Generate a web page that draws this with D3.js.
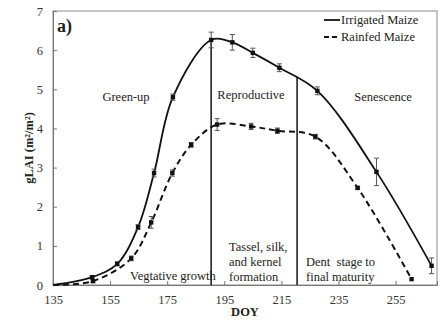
<!DOCTYPE html>
<html><head><meta charset="utf-8">
<script src="https://cdn.jsdelivr.net/npm/d3@7"></script>
<style>body{margin:0;background:#fff}svg{display:block}</style>
</head><body>
<script>
const irrigatedDOY = [135, 148.7, 157.5, 164.8, 170.4, 177, 190.4, 197.8, 205, 214.3, 227.6, 248.3, 267.6];
const irrigatedLAI = [0, 0.2, 0.54, 1.48, 2.86, 4.8, 6.26, 6.2, 5.93, 5.55, 4.96, 2.89, 0.49];
const irrigatedErr = [0, 0.04, 0.05, 0.06, 0.1, 0.08, 0.2, 0.2, 0.12, 0.1, 0.1, 0.35, 0.2];
const rainfedDOY = [135, 149, 162.4, 169.4, 176.8, 183.4, 192.5, 204.4, 213.6, 226.9, 241.7, 260.6];
const rainfedLAI = [0, 0.1, 0.68, 1.6, 2.86, 3.58, 4.1, 4.05, 3.94, 3.79, 2.48, 0.15];
const rainfedErr = [0, 0.04, 0.06, 0.15, 0.08, 0.06, 0.15, 0.08, 0.07, 0.06, 0.04, 0.0];
const stageDOY = [190.4, 220.5];
const stageTop = [6.26, 5.32];
const xTicks = [135, 155, 175, 195, 215, 235, 255];
const yTicks = [0, 1, 2, 3, 4, 5, 6, 7];
const seriesNames = ["Irrigated Maize", "Rainfed Maize"];

const W = 444, H = 321;
const svg = d3.select("body").append("svg").attr("width", W).attr("height", H);
const x = d3.scaleLinear().domain([135, 269.5]).range([53, 437]);
const y = d3.scaleLinear().domain([0, 7]).range([285, 11]);
const font = "'Liberation Serif','Times New Roman',serif";

// frame
svg.append("rect").attr("x", 53).attr("y", 11).attr("width", 384).attr("height", 274)
  .attr("fill", "none").attr("stroke", "#8a8a8a").attr("stroke-width", 1);

// axes
const xAxis = d3.axisBottom(x).tickValues(xTicks).tickSize(-4).tickPadding(10).tickFormat(d3.format("d"));
const gx = svg.append("g").attr("transform", "translate(0,285)").call(xAxis);
gx.select(".domain").attr("stroke", "#777");
gx.selectAll(".tick line").attr("stroke", "#777");
gx.selectAll("text").attr("font-family", font).attr("font-size", 12.5).attr("fill", "#333");

const yAxis = d3.axisLeft(y).tickValues(yTicks).tickSize(-4).tickPadding(10).tickFormat(d3.format("d"));
const gy = svg.append("g").attr("transform", "translate(53,0)").call(yAxis);
gy.select(".domain").attr("stroke", "#777");
gy.selectAll(".tick line").attr("stroke", "#777");
gy.selectAll("text").attr("font-family", font).attr("font-size", 12.5).attr("fill", "#333");

// stage lines
stageDOY.forEach((d, i) => {
  svg.append("line").attr("x1", x(d)).attr("x2", x(d)).attr("y1", y(stageTop[i])).attr("y2", y(0))
    .attr("stroke", "#222").attr("stroke-width", 1.6);
});

const line = d3.line().x(d => x(d[0])).y(d => y(d[1])).curve(d3.curveCatmullRom.alpha(0.5));
const irr = irrigatedDOY.map((d, i) => [d, irrigatedLAI[i], irrigatedErr[i]]);
const rf = rainfedDOY.map((d, i) => [d, rainfedLAI[i], rainfedErr[i]]);

svg.append("path").attr("d", line(irr)).attr("fill", "none").attr("stroke", "#111").attr("stroke-width", 1.8);
svg.append("path").attr("d", line(rf)).attr("fill", "none").attr("stroke", "#111").attr("stroke-width", 2)
  .attr("stroke-dasharray", "6,4");

function drawPoints(data) {
  const g = svg.append("g");
  data.slice(1).forEach(d => {
    if (d[2] > 0) {
      const cx = x(d[0]), t = y(d[1] + d[2]), b = y(d[1] - d[2]);
      g.append("line").attr("x1", cx).attr("x2", cx).attr("y1", t).attr("y2", b).attr("stroke", "#555").attr("stroke-width", 1);
      g.append("line").attr("x1", cx - 2.5).attr("x2", cx + 2.5).attr("y1", t).attr("y2", t).attr("stroke", "#555").attr("stroke-width", 1);
      g.append("line").attr("x1", cx - 2.5).attr("x2", cx + 2.5).attr("y1", b).attr("y2", b).attr("stroke", "#555").attr("stroke-width", 1);
    }
    g.append("rect").attr("x", x(d[0]) - 2.2).attr("y", y(d[1]) - 2.2).attr("width", 4.4).attr("height", 4.4).attr("fill", "#111");
  });
}
drawPoints(irr);
drawPoints(rf);

// text annotations
const txt = (s, tx, ty, anchor, size, weight) => svg.append("text").attr("x", tx).attr("y", ty)
  .attr("text-anchor", anchor || "start").attr("font-family", font).attr("font-size", size || 12.5)
  .attr("font-weight", weight || "normal").attr("fill", "#222").text(s);

txt("a)", 57, 32, "start", 18, "bold");
txt("Green-up", 126, 101, "middle");
txt("Reproductive", 251, 99, "middle");
txt("Senescence", 383, 101, "middle");
txt("Vegtative growth", 130, 280);
txt("Tassel, silk,", 229, 251);
txt("and kernel", 229, 266);
txt("formation", 229, 281);
txt("Dent  stage to", 306, 266).attr("xml:space", "preserve").style("white-space", "pre");
txt("final maturity", 306, 281);

// legend
[0, 1].forEach(i => {
  const ly = 24 + i * 17;
  svg.append("line").attr("x1", 324).attr("x2", 340).attr("y1", ly - 4).attr("y2", ly - 4)
    .attr("stroke", "#111").attr("stroke-width", 1.8).attr("stroke-dasharray", i ? "5,3" : null);
  txt(seriesNames[i], 341, ly, "start", 12.5);
});

// axis titles
txt("DOY", 245, 316, "middle", 12.5, "bold");
svg.append("text").attr("transform", "translate(33,148) rotate(-90)").attr("text-anchor", "middle")
  .attr("font-family", font).attr("font-size", 12.5).attr("font-weight", "bold").attr("fill", "#222")
  .text("gLAI (m²/m²)");
</script>
</body></html>
